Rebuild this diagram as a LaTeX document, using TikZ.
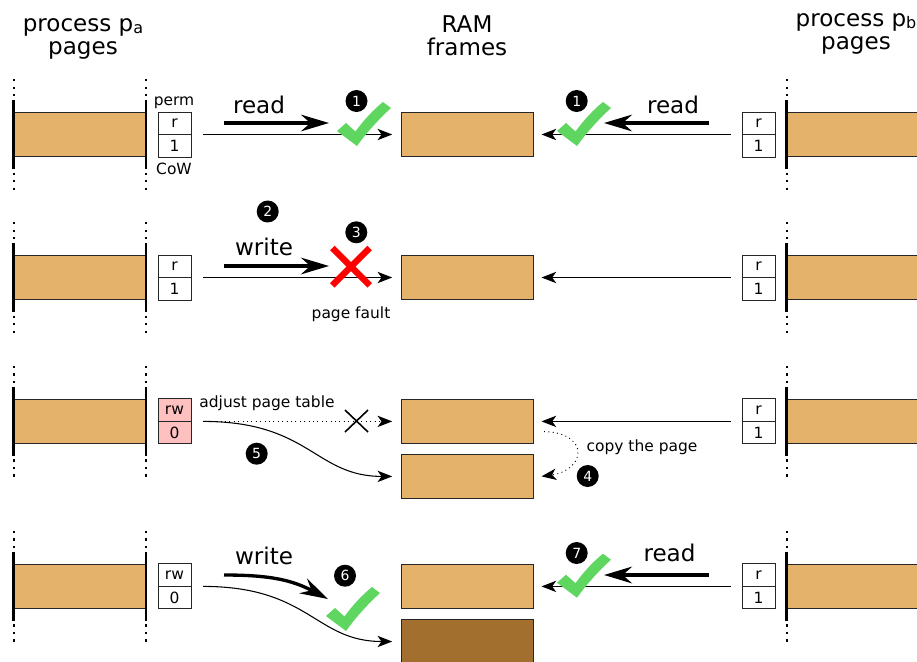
\documentclass[tikz,border=0pt]{standalone}
\usepackage{fontspec}
\setmainfont{DejaVu Sans}
\usetikzlibrary{arrows.meta}
\definecolor{pagefill}{HTML}{E5B26B}
\definecolor{darkpage}{HTML}{A26F2E}
\definecolor{pinkcell}{HTML}{FFC0C0}
\definecolor{okgreen}{HTML}{5FD660}
\newcommand{\bigtxt}{\fontsize{17.3}{17.2}\selectfont}
\newcommand{\smalltxt}{\fontsize{11.6}{13}\selectfont}
\tikzset{
  pagebox/.style={draw=black!85,line width=.7pt,fill=pagefill,minimum width=99pt,minimum height=33.5pt,inner sep=0pt,outer sep=0pt},
  cell/.style={draw=black!85,line width=.7pt,fill=white,minimum width=24.75pt,minimum height=16.9pt,inner sep=0pt,outer sep=0pt,font=\smalltxt},
  pink/.style={fill=pinkcell},
  badge/.style={circle,fill=black,text=white,minimum size=16.5pt,inner sep=0pt,font=\fontsize{10.5}{11}\selectfont},
  bigarrow/.style={line width=2.5pt,-{Stealth[length=21pt,width=12.5pt,inset=7pt]}},
  thinarrow/.style={line width=.8pt,-{Stealth[length=11pt,width=8.5pt,inset=3pt]}},
  dotarrow/.style={line width=.7pt,dash pattern=on .7pt off 2.6pt,-{Stealth[length=11pt,width=8.5pt,inset=3pt]}},
  limitbar/.style={line width=1.8pt},
  limitdots/.style={line width=1.5pt,dash pattern=on 1.6pt off 4.025pt},
  lbl/.style={inner sep=0pt,font=\smalltxt},
  biglbl/.style={inner sep=0pt,font=\bigtxt},
  okmark/.pic={\fill[okgreen] (0,0) -- (9,-8) -- (18.5,.5) .. controls (26,-10) and (36,-21) .. (46,-29) -- (54,-23) .. controls (42,-12) and (30,1) .. (20,15) -- cycle;}
}
\begin{document}
\begin{tikzpicture}[x=.75pt,y=-.75pt]
\clip (0,0) rectangle (917,661);
\fill[white] (0,0) rectangle (917,661);
% process page bars, rows and RAM frames
\foreach \r/\y in {1/134.5,2/277.5,3/421.4,4/586.4}{
  \node[pagebox] (la\r) at (80,\y) {};
  \node[pagebox] (rb\r) at (853,\y) {};
  \node[pagebox] (ram\r) at (467,\y) {};
  \foreach \xx in {13.5,146,786.5}{
    \draw[limitbar] (\xx,\y-34.5) -- (\xx,\y+34.5);
    \draw[limitdots] (\xx,\y-55.5) -- (\xx,\y-38);
    \draw[limitdots] (\xx,\y+38) -- (\xx,\y+55.5);
  }
  \node[cell,anchor=south] (rt\r) at (758.5,\y) {r};
  \node[cell,anchor=north] (rv\r) at (758.5,\y) {1};
  \draw[thinarrow] ([xshift=-8.6pt]rt\r.south west) -- ([xshift=6.4pt]ram\r.east);
}
\node[pagebox] (ram3b) at (467,476.4) {};
\node[pagebox,fill=darkpage] (ram4b) at (467,641.5) {};
% left cells
\node[cell,anchor=south] (lt1) at (174.5,134.5) {r};
\node[cell,anchor=north] (lv1) at (174.5,134.5) {1};
\node[cell,anchor=south] (lt2) at (174.5,277.5) {r};
\node[cell,anchor=north] (lv2) at (174.5,277.5) {1};
\node[cell,pink,anchor=south] (lt3) at (174.5,421.4) {rw};
\node[cell,pink,anchor=north] (lv3) at (174.5,421.4) {0};
\node[cell,anchor=south] (lt4) at (174.5,586.4) {rw};
\node[cell,anchor=north] (lv4) at (174.5,586.4) {0};
% connectors
\draw[thinarrow] ([xshift=9pt]lt1.south east) -- ([xshift=-6.6pt]ram1.west);
\draw[thinarrow] ([xshift=9pt]lt2.south east) -- ([xshift=-6.6pt]ram2.west);
\draw[dotarrow] ([xshift=9pt]lt3.south east) -- ([xshift=-6.6pt]ram3.west);
\draw[thinarrow] ([xshift=9pt]lt3.south east) .. controls (310,421.4) and (315,476.4) .. ([xshift=-6.6pt]ram3b.west);
\draw[thinarrow] ([xshift=9pt]lt4.south east) .. controls (310,586.4) and (315,641.5) .. ([xshift=-6.6pt]ram4b.west);
\coordinate (copyfrom) at (544,431.5);
\draw[dotarrow] (copyfrom) .. controls (590,433) and (586,470) .. ([xshift=6.4pt]ram3b.east);
% operation arrows
\coordinate (r1a) at (224,123); \coordinate (r1b) at (329,123);
\coordinate (r2a) at (709,123); \coordinate (r2b) at (604,123);
\coordinate (w1a) at (224,266); \coordinate (w1b) at (329,266);
\coordinate (w2a) at (224,575); \coordinate (w2b) at (328,599);
\coordinate (r3a) at (709,575); \coordinate (r3b) at (604,575);
\draw[bigarrow] (r1a) -- (r1b);
\draw[bigarrow] (r2a) -- (r2b);
\draw[bigarrow] (w1a) -- (w1b);
\draw[bigarrow] (r3a) -- (r3b);
\draw[bigarrow] (w2a) .. controls (270,575) and (292,580) .. (w2b);
% marks
\pic at (337,131) {okmark};
\pic at (557,131) {okmark};
\pic at (557,582.7) {okmark};
\pic at (326,616) {okmark};
\draw[line width=4.8pt,red] (332.3,248) -- (369.7,285.4) (369.7,248) -- (332.3,285.4);
\draw[line width=1.2pt] (345,410) -- (368,432) (368,410) -- (345,432);
% badges
\node[badge] (b1) at (356.5,101) {1};
\node[badge] (b1r) at (576.7,101) {1};
\node[badge] (b2) at (267.7,211.5) {2};
\node[badge] (b3) at (356.3,232.3) {3};
\node[badge] (b4) at (587.7,476) {4};
\node[badge] (b5) at (256.7,453.7) {5};
\node[badge] (b6) at (345,575.7) {6};
\node[badge] (b7) at (576.7,553) {7};
% titles
\node[biglbl,align=center] (t1) at (83,38.5) {process p\raisebox{-.2ex}{\fontsize{12}{12}\selectfont a}\\pages};
\node[biglbl,align=center] (t2) at (467,35.5) {RAM\\frames};
\node[biglbl,align=center] (t3) at (856,33.5) {process p\raisebox{-.2ex}{\fontsize{12}{12}\selectfont b}\\pages};
% labels
\node[lbl] (perm) at (174,103) {perm};
\node[lbl] (cow) at (174,169) {CoW};
\node[biglbl] (read1) at (259,104.5) {read};
\node[biglbl] (read2) at (673,104.5) {read};
\node[biglbl] (write1) at (264,247) {write};
\node[lbl] (fault) at (351,314) {page fault};
\node[lbl] (adjust) at (267,403) {adjust page table};
\node[lbl] (copy) at (642,447) {copy the page};
\node[biglbl] (write2) at (264,556) {write};
\node[biglbl] (read3) at (669.5,552.5) {read};
\end{tikzpicture}
\end{document}
